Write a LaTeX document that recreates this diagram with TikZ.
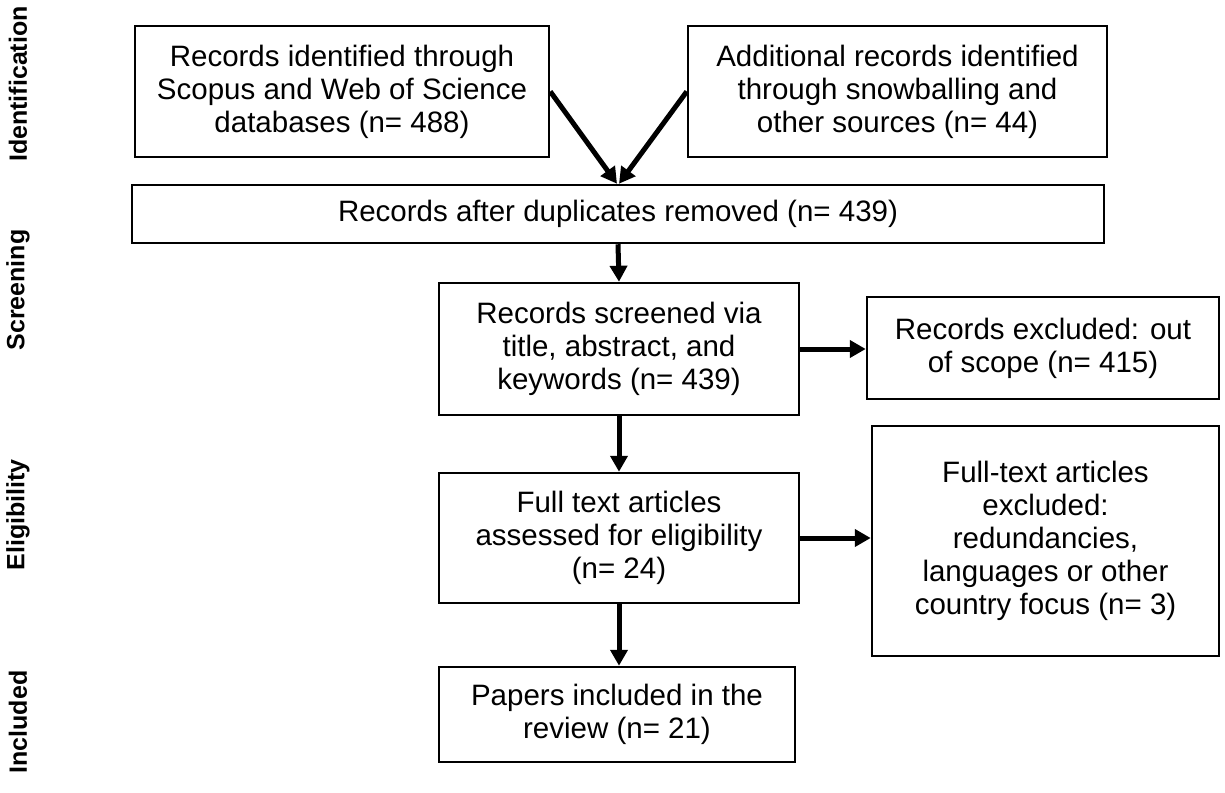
\documentclass[tikz,border=0pt]{standalone}
\usepackage{fontspec}
\setmainfont{Liberation Sans}
\usepackage{tikz}
\usetikzlibrary{arrows.meta}

\begin{document}
\begin{tikzpicture}[x=1pt, y=-1pt,
    box/.style={draw, line width=2.5pt, align=center, inner sep=0pt,
      font=\fontsize{29.5}{33}\selectfont},
    flow/.style={line width=5pt, -{Triangle[length=16pt,width=17pt]}},
    phase/.style={rotate=90, font=\fontsize{25}{28}\selectfont\bfseries}]
    \useasboundingbox (0,0) rectangle (1225,792);
    % phases
    \path (18,84)  node [phase] (id)  {Identification}
          (18,290) node [phase] (scr) {Screening}
          (18,515) node [phase] (eli) {Eligibility}
          (18,722) node [phase] (inc) {Included};
    % boxes
    \node [box, minimum width=414, minimum height=131] (ident) at (342,91.5)
      {Records identified through\\Scopus and Web of Science\\databases (n= 488)};
    \node [box, minimum width=419, minimum height=131] (extra) at (897.5,91.5)
      {Additional records identified\\through snowballing and\\other sources (n= 44)};
    \node [box, minimum width=972, minimum height=58] (dupl) at (618,214)
      {Records after duplicates removed (n= 439)};
    \node [box, minimum width=360, minimum height=132] (screen) at (619,349)
      {Records screened via\\title, abstract, and\\keywords (n= 439)};
    \node [box, minimum width=352, minimum height=102] (excl) at (1043,348)
      {Records excluded: out\\of scope (n= 415)};
    \node [box, minimum width=360, minimum height=130] (full) at (619,538)
      {Full text articles\\assessed for eligibility\\(n= 24)};
    \node [box, minimum width=347, minimum height=230] (fexcl) at (1045.5,541)
      {Full-text articles\\excluded:\\redundancies,\\languages or other\\country focus (n= 3)};
    \node [box, minimum width=356, minimum height=95] (incl) at (617,714.5)
      {Papers included in the\\review (n= 21)};
    % arrows
    \draw [flow] (ident.east) -- ([xshift=-1pt]dupl.north);
    \draw [flow] (extra.west) -- ([xshift=1pt]dupl.north);
    \draw [flow] (dupl.south) -- (screen.north);
    \draw [flow] (screen.east) -- (screen.east -| excl.west);
    \draw [flow] (screen.south) -- (full.north);
    \draw [flow] (full.east) -- (full.east -| fexcl.west);
    \draw [flow] (full.south) -- (full.south |- incl.north);
\end{tikzpicture}
\end{document}
